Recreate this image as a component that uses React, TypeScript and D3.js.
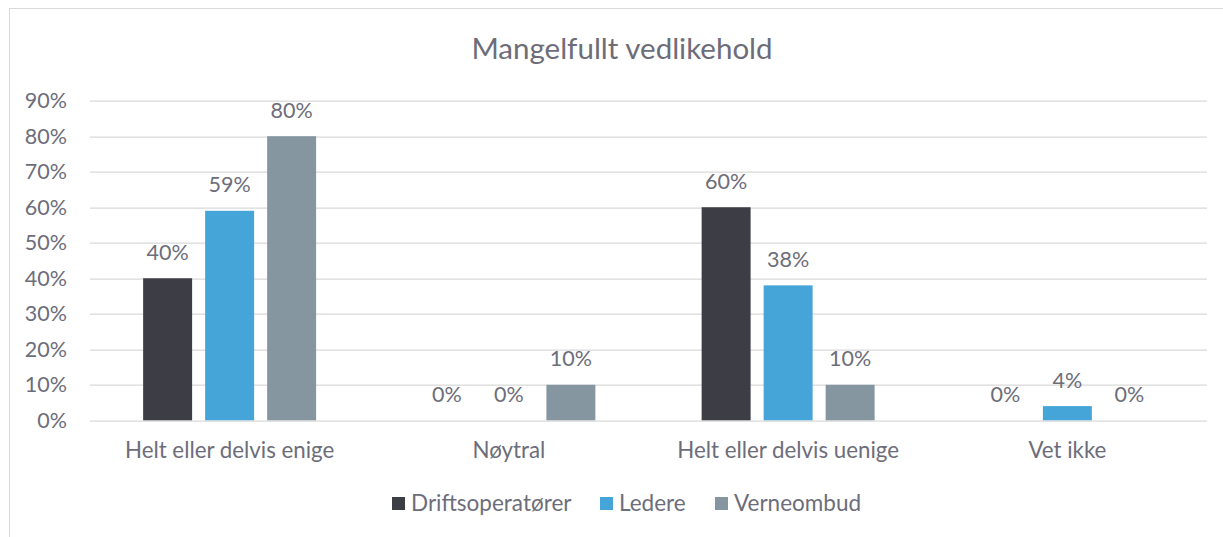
import React, { useEffect, useRef } from 'react';
import * as d3 from 'd3';

const categories = ['Helt eller delvis enige', 'Nøytral', 'Helt eller delvis uenige', 'Vet ikke'];
const seriesNames = ['Driftsoperatører', 'Ledere', 'Verneombud'];
const driftsoperatorer = [0.4, 0, 0.6, 0];
const ledere = [0.59, 0, 0.38, 0.04];
const verneombud = [0.8, 0.1, 0.1, 0];
const seriesColors = ['#3c3d45', '#45a5d8', '#8596a1'];
const yTicks = [0, 0.1, 0.2, 0.3, 0.4, 0.5, 0.6, 0.7, 0.8, 0.9];

const W = 1223;
const H = 537;
const FONT = 'Lato, sans-serif';
const TEXT = '#6d6d7a';

const App = () => {
  const svgRef = useRef<SVGSVGElement>(null);

  useEffect(() => {
    const svg = d3.select(svgRef.current);
    svg.selectAll('*').remove();

    const margin = { top: 100.7, right: 16, bottom: 116.7, left: 90 };
    const plotW = W - margin.left - margin.right;
    const plotH = H - margin.top - margin.bottom;

    // chart frame (cropped on right and bottom)
    svg.append('rect')
      .attr('x', 9.5).attr('y', 8.5)
      .attr('width', W + 20).attr('height', H + 20)
      .attr('fill', '#fff')
      .attr('stroke', '#d9d9d9')
      .attr('stroke-width', 1);

    svg.append('text')
      .attr('x', 622).attr('y', 59)
      .attr('text-anchor', 'middle')
      .attr('font-family', FONT)
      .attr('font-size', 29.5)
      .attr('fill', TEXT)
      .text('Mangelfullt vedlikehold');

    const g = svg.append('g').attr('transform', `translate(${margin.left},${margin.top})`);

    const x0 = d3.scaleBand().domain(categories).range([0, plotW]);
    const x1 = d3.scaleBand().domain(seriesNames).range([0, x0.bandwidth()])
      .paddingInner(0.21).paddingOuter(0.857);
    const y = d3.scaleLinear().domain([0, 0.9]).range([plotH, 0]);

    // gridlines
    g.append('g')
      .selectAll('line')
      .data(yTicks)
      .join('line')
      .attr('x1', 0).attr('x2', plotW)
      .attr('y1', d => Math.round(y(d)) + 0.5).attr('y2', d => Math.round(y(d)) + 0.5)
      .attr('stroke', '#d9d9d9')
      .attr('stroke-width', 1.3);

    // y labels
    g.append('g')
      .selectAll('text')
      .data(yTicks)
      .join('text')
      .attr('x', -23)
      .attr('y', d => y(d) + 7.5)
      .attr('text-anchor', 'end')
      .attr('font-family', FONT)
      .attr('font-size', 21.5)
      .attr('fill', TEXT)
      .text(d => d3.format('.0%')(d));

    const values = [driftsoperatorer, ledere, verneombud];

    values.forEach((vals, si) => {
      const sg = g.append('g');
      sg.selectAll('rect')
        .data(vals)
        .join('rect')
        .attr('x', (d, i) => (x0(categories[i]) ?? 0) + (x1(seriesNames[si]) ?? 0))
        .attr('y', d => y(d))
        .attr('width', x1.bandwidth())
        .attr('height', d => plotH - y(d))
        .attr('fill', seriesColors[si]);

      sg.selectAll('text')
        .data(vals)
        .join('text')
        .attr('x', (d, i) => (x0(categories[i]) ?? 0) + (x1(seriesNames[si]) ?? 0) + x1.bandwidth() / 2)
        .attr('y', d => y(d) - 18.5)
        .attr('text-anchor', 'middle')
        .attr('font-family', FONT)
        .attr('font-size', 21.5)
        .attr('fill', TEXT)
        .text(d => d3.format('.0%')(d));
    });

    // category labels
    g.append('g')
      .selectAll('text')
      .data(categories)
      .join('text')
      .attr('x', d => (x0(d) ?? 0) + x0.bandwidth() / 2)
      .attr('y', plotH + 38)
      .attr('text-anchor', 'middle')
      .attr('font-family', FONT)
      .attr('font-size', 22.3)
      .attr('fill', TEXT)
      .text(d => d);

    // legend
    const legendX = [392, 600, 715];
    const legend = svg.append('g');
    seriesNames.forEach((name, i) => {
      legend.append('rect')
        .attr('x', legendX[i]).attr('y', 497)
        .attr('width', 13).attr('height', 13)
        .attr('fill', seriesColors[i]);
      legend.append('text')
        .attr('x', legendX[i] + 19).attr('y', 511)
        .attr('font-family', FONT)
        .attr('font-size', 22.5)
        .attr('fill', TEXT)
        .text(name);
    });
  }, []);

  return (
    <div style={{ position: 'fixed', left: 0, top: 0, width: W, height: H, background: '#fff' }}>
      <svg ref={svgRef} width={W} height={H} style={{ display: 'block' }} />
    </div>
  );
};

export default App;
